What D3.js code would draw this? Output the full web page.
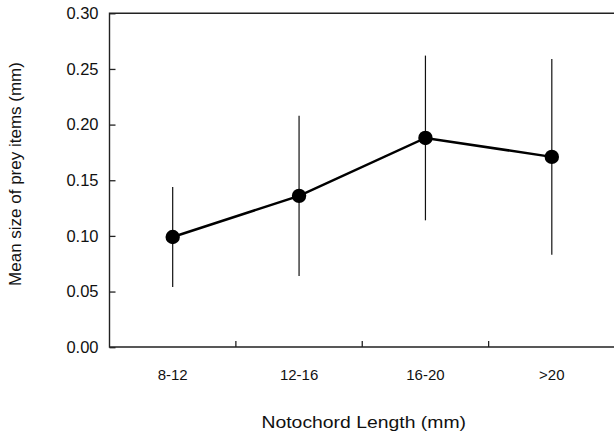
<!DOCTYPE html>
<html>
<head>
<meta charset="utf-8">
<script src="https://cdn.jsdelivr.net/npm/d3@7"></script>
<style>
  html, body { margin: 0; padding: 0; background: #fff; }
  svg { display: block; font-family: "Liberation Sans", Arial, sans-serif; }
</style>
</head>
<body>
<svg id="chart" width="614" height="437"></svg>
<script>
// Notochord length classes and mean prey size with spread (mm)
const categories = ["8-12", "12-16", "16-20", ">20"];
const meanSize = [0.099, 0.136, 0.188, 0.171];
const spread = [0.045, 0.072, 0.074, 0.088];
const yTicks = [0.00, 0.05, 0.10, 0.15, 0.20, 0.25, 0.30];

const svg = d3.select("#chart");
const margin = { left: 109.5, right: -1, top: 13.3, bottom: 90 };
const W = 614, H = 437;
const x0 = margin.left, x1 = W - margin.right;
const y0 = H - margin.bottom, y1 = margin.top;

const x = d3.scaleBand().domain(categories).range([x0, x1]);
const y = d3.scaleLinear().domain([0, 0.30]).range([y0 + 0.2, y1]);

const axisColor = "#222";

// frame: left, bottom, top
const g = svg.append("g");
g.append("path")
  .attr("d", `M${x1},${y1}H${x0}V${y0}H${x1}`)
  .attr("fill", "none").attr("stroke", axisColor).attr("stroke-width", 1.4);

// y axis ticks pointing inward
const yAxis = d3.axisLeft(y).tickValues(yTicks).tickFormat(d3.format(".2f"))
  .tickSizeInner(-6).tickSizeOuter(0).tickPadding(11);
const ya = svg.append("g").attr("transform", `translate(${x0},0)`).call(yAxis);
ya.select(".domain").remove();
ya.selectAll(".tick line").attr("stroke", axisColor).attr("stroke-width", 1.3);
ya.selectAll(".tick text").attr("font-size", 16.5).attr("fill", "#111")
  .attr("font-family", "Liberation Sans, Arial, sans-serif");

// x axis: ticks at the boundaries between classes, pointing inward
const boundaries = categories.slice(1).map(c => x(c));
svg.append("g").selectAll("line").data(boundaries).join("line")
  .attr("x1", d => d).attr("x2", d => d)
  .attr("y1", y0).attr("y2", y0 - 6)
  .attr("stroke", axisColor).attr("stroke-width", 1.3);
svg.append("g").selectAll("text").data(categories).join("text")
  .attr("x", d => x(d) + x.bandwidth() / 2)
  .attr("y", y0 + 33)
  .attr("text-anchor", "middle")
  .attr("font-size", 15).attr("fill", "#111")
  .text(d => d);

// axis titles
svg.append("text")
  .attr("transform", `translate(${(x0 + 615) / 2 + 1.5},428) scale(1.14,1)`)
  .attr("text-anchor", "middle").attr("font-size", 17).attr("fill", "#111")
  .text("Notochord Length (mm)");
svg.append("text")
  .attr("transform", `translate(21,174) rotate(-90)`)
  .attr("text-anchor", "middle").attr("font-size", 17).attr("fill", "#111")
  .text("Mean size of prey items (mm)");

const cx = i => x(categories[i]) + x.bandwidth() / 2;
const idx = d3.range(categories.length);

// error bars
svg.append("g").selectAll("line").data(idx).join("line")
  .attr("x1", cx).attr("x2", cx)
  .attr("y1", i => y(meanSize[i] - spread[i]))
  .attr("y2", i => y(meanSize[i] + spread[i]))
  .attr("stroke", "#111").attr("stroke-width", 1.2);

// connecting line
svg.append("path")
  .datum(idx)
  .attr("d", d3.line().x(cx).y(i => y(meanSize[i])))
  .attr("fill", "none").attr("stroke", "#000").attr("stroke-width", 2.5);

// markers
svg.append("g").selectAll("circle").data(idx).join("circle")
  .attr("cx", cx).attr("cy", i => y(meanSize[i]))
  .attr("r", 7.2).attr("fill", "#000");
</script>
</body>
</html>
